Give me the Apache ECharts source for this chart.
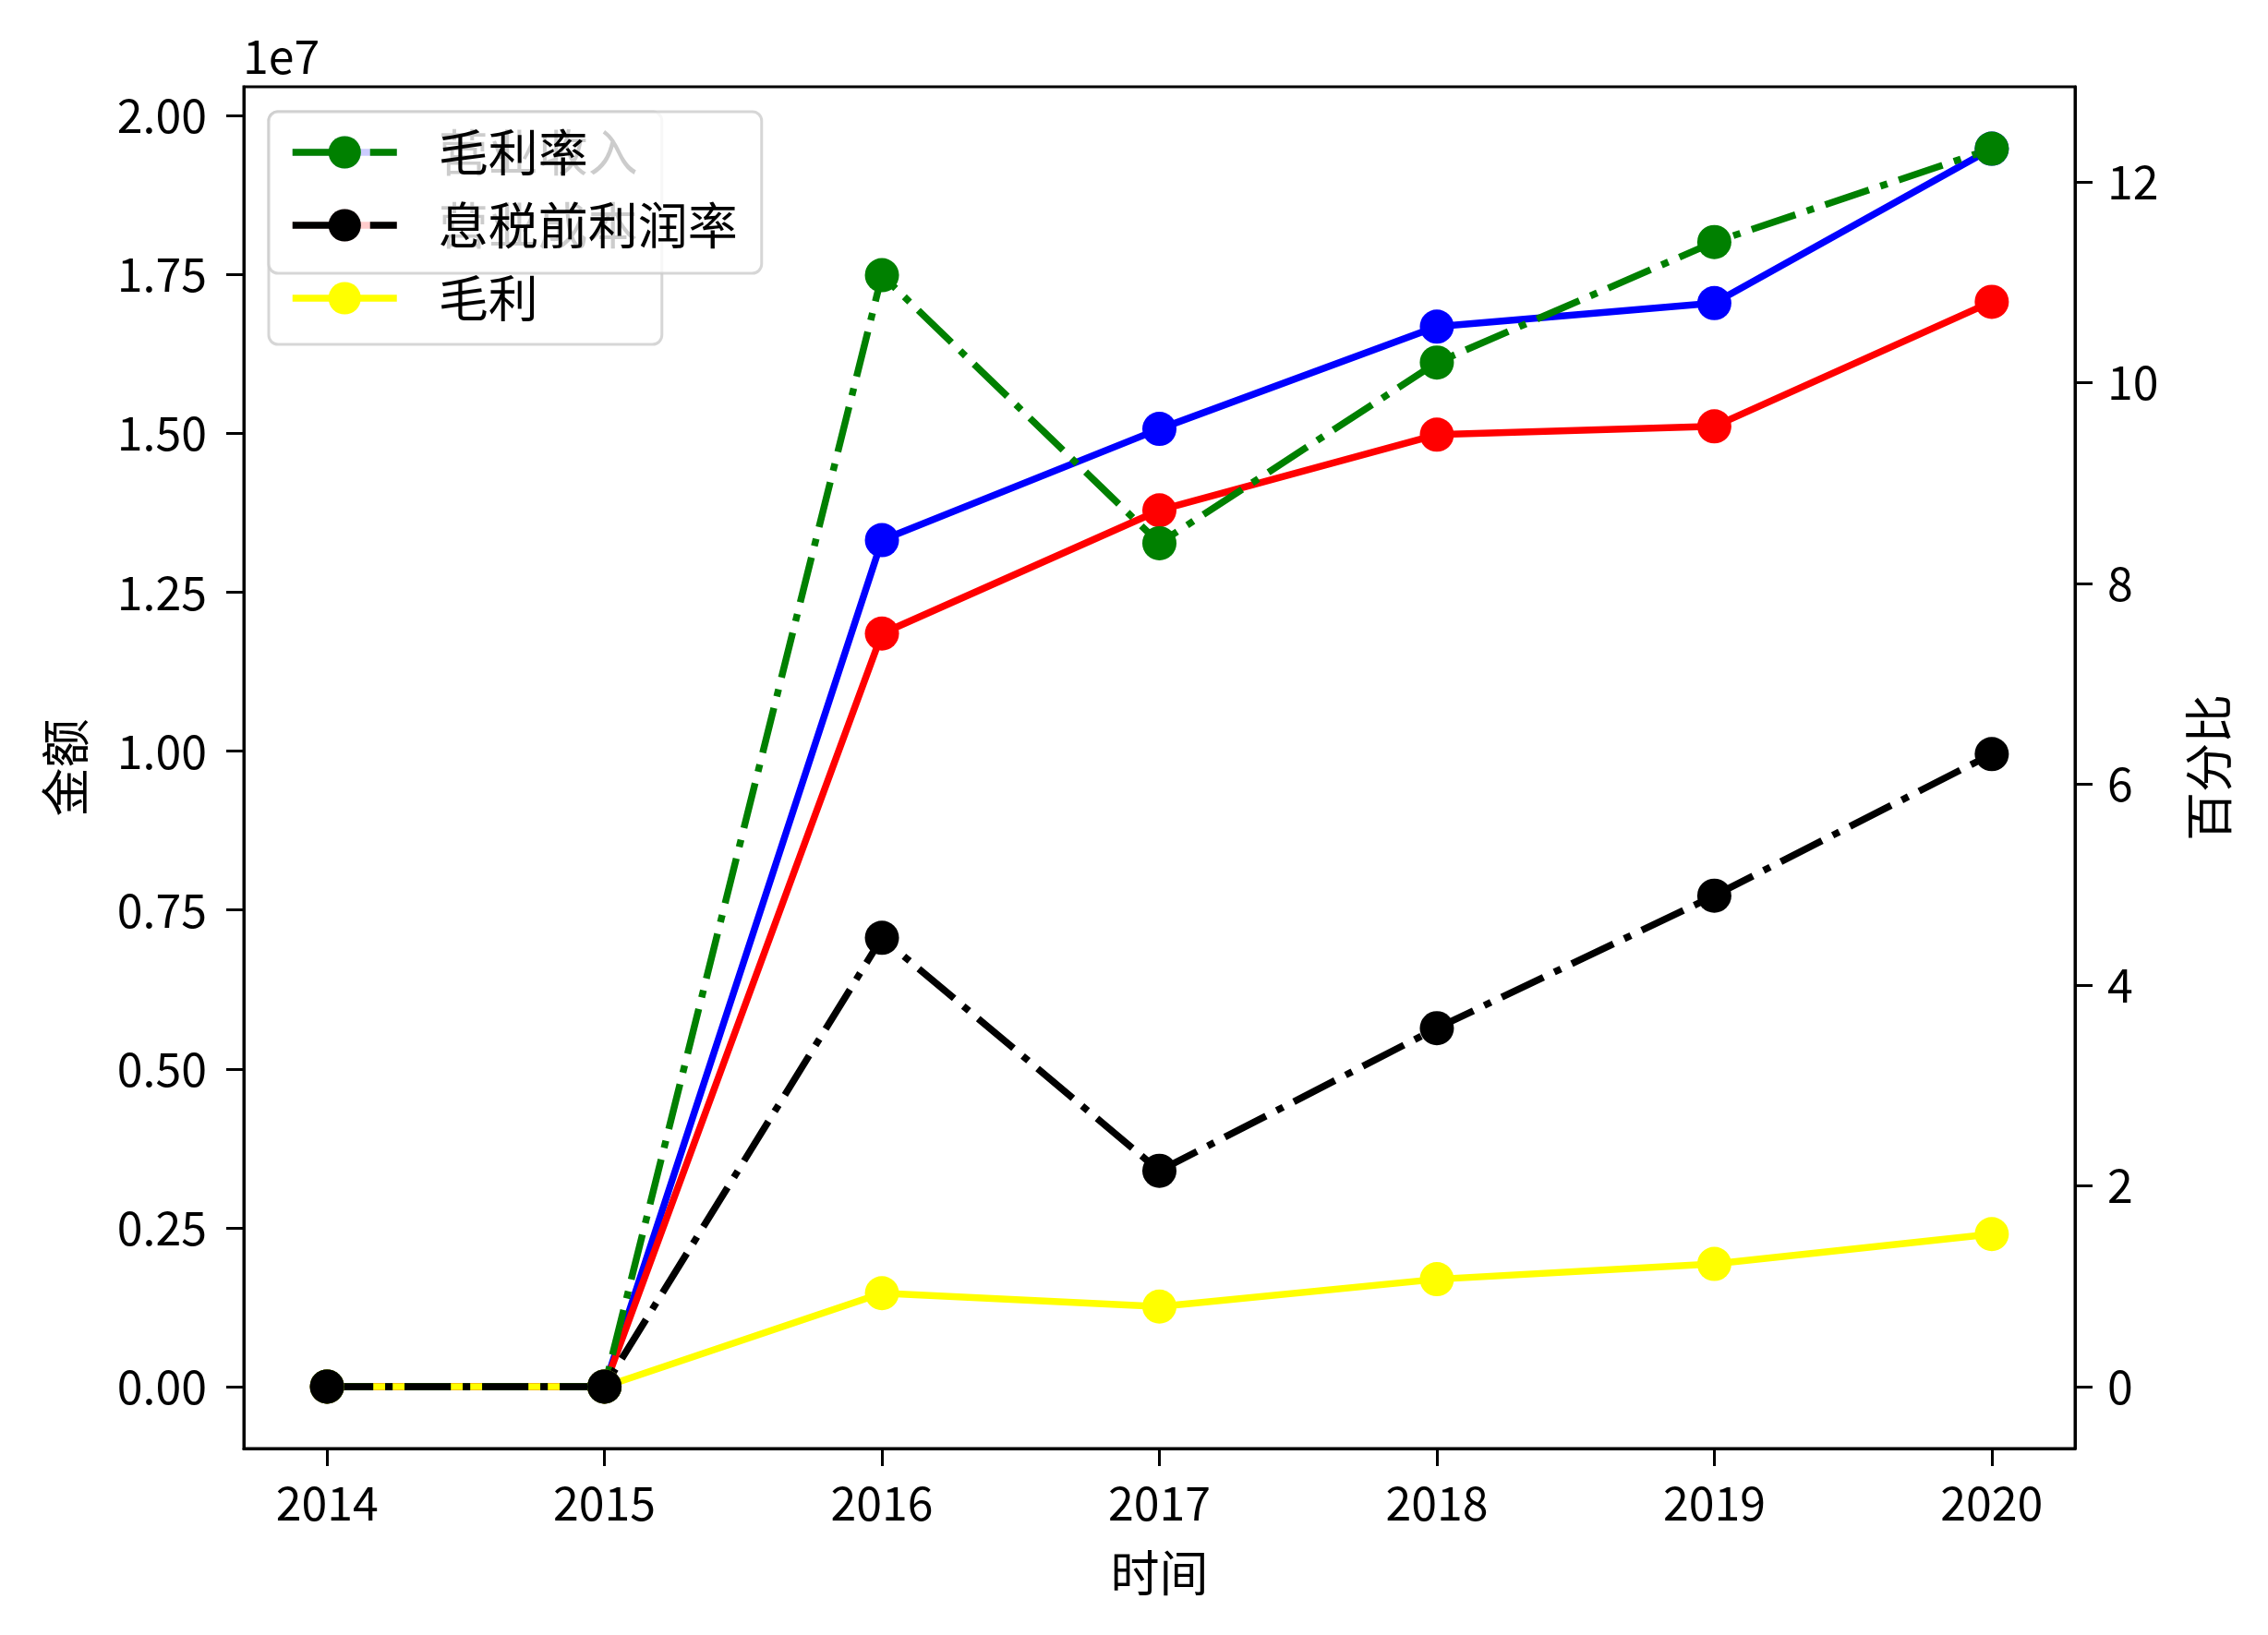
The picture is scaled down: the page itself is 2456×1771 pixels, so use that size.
<!DOCTYPE html>
<html>
<head>
<meta charset="utf-8">
<script src="https://cdn.jsdelivr.net/npm/echarts@6/dist/echarts.min.js"></script>
<style>html,body{margin:0;padding:0;background:#fff}#c{width:2456px;height:1771px}</style>
</head>
<body>
<div id="c"></div>
<script>
const years = [2014, 2015, 2016, 2017, 2018, 2019, 2020];
const revenue = [0, 0, 13320000, 15070000, 16680000, 17050000, 19480000];   // 营业收入
const cost = [0, 0, 11850000, 13790000, 14980000, 15110000, 17070000];      // 营业成本
const grossProfit = [0, 0, 1470000, 1260000, 1690000, 1930000, 2400000];    // 毛利
const grossMargin = [0, 0, 11.07, 8.40, 10.20, 11.40, 12.33];               // 毛利率
const ebitMargin = [0, 0, 4.47, 2.15, 3.57, 4.89, 6.30];                    // 息税前利润率
const leftTicks = [0, 2500000, 5000000, 7500000, 10000000, 12500000, 15000000, 17500000, 20000000];
const rightTicks = [0, 2, 4, 6, 8, 10, 12];

const FONT = '"Noto Sans CJK SC", "Noto Sans", sans-serif';
const pairs = arr => years.map((y, i) => [y, arr[i]]);
const LW = 7.5;
const dashDot = [50, 13, 8, 13];

function mkSeries(name, color, data, axis, dashed) {
  return {
    name: name, type: 'line', yAxisIndex: axis, data: pairs(data),
    symbol: 'circle', symbolSize: 37, showSymbol: true, showAllSymbol: true,
    lineStyle: { color: color, width: LW, type: dashed ? dashDot : 'solid' },
    itemStyle: { color: color },
    emphasis: { disabled: true }
  };
}

const legendCommon = {
  orient: 'vertical', left: 291, top: 121,
  backgroundColor: 'rgba(255,255,255,0.8)',
  borderColor: 'rgba(204,204,204,0.8)', borderWidth: 3, borderRadius: 10,
  padding: [14, 26, 20, 22],
  itemWidth: 113, itemHeight: 44, itemGap: 19,
  lineStyle: { width: LW },
  textStyle: { fontFamily: FONT, fontSize: 54, color: '#000', lineHeight: 60, padding: [0, 0, 0, 40] },
  selectedMode: false
};

const axisLineStyle = { show: true, onZero: false, lineStyle: { color: '#000', width: 3 } };

const chart = echarts.init(document.getElementById('c'), null, { renderer: 'canvas' });
chart.setOption({
  animation: false,
  backgroundColor: '#fff',
  textStyle: { fontFamily: FONT },
  grid: { left: 264, right: 209, top: 94, bottom: 202, show: true, borderColor: '#000', borderWidth: 3, backgroundColor: 'transparent' },
  legend: [
    Object.assign({}, legendCommon, { data: ['营业收入', '营业成本', '毛利'], z: 4 }),
    Object.assign({}, legendCommon, { data: ['毛利率', '息税前利润率'], z: 6, padding: [14, 26, 22, 22] })
  ],
  graphic: [{
    type: 'text', left: 263, top: 36,
    style: { text: '1e7', fontFamily: FONT, fontSize: 50, fill: '#000' }
  }],
  xAxis: {
    type: 'value', min: 2013.7, max: 2020.3,
    name: '时间', nameLocation: 'middle', nameGap: 108,
    nameTextStyle: { fontFamily: FONT, fontSize: 53, color: '#000' },
    axisLine: axisLineStyle,
    axisTick: { show: true, length: 19, lineStyle: { color: '#000', width: 3 }, customValues: years },
    axisLabel: { customValues: years, margin: 34, fontFamily: FONT, fontSize: 50, color: '#000', formatter: v => String(v) },
    splitLine: { show: false }
  },
  yAxis: [{
    type: 'value', min: -974000, max: 20454000, position: 'left',
    name: '金额', nameLocation: 'middle', nameGap: 167, nameRotate: 90,
    nameTextStyle: { fontFamily: FONT, fontSize: 53, color: '#000' },
    axisLine: axisLineStyle,
    axisTick: { show: true, length: 19, lineStyle: { color: '#000', width: 3 }, customValues: leftTicks },
    axisLabel: { customValues: leftTicks, margin: 40, fontFamily: FONT, fontSize: 50, color: '#000', formatter: v => (v / 1e7).toFixed(2) },
    splitLine: { show: false }
  }, {
    type: 'value', min: -0.6165, max: 12.9465, position: 'right',
    name: '百分比', nameLocation: 'middle', nameGap: 118, nameRotate: 90,
    nameTextStyle: { fontFamily: FONT, fontSize: 53, color: '#000' },
    axisLine: axisLineStyle,
    axisTick: { show: true, length: 19, lineStyle: { color: '#000', width: 3 }, customValues: rightTicks },
    axisLabel: { customValues: rightTicks, margin: 35, fontFamily: FONT, fontSize: 50, color: '#000', formatter: v => String(v) },
    splitLine: { show: false }
  }],
  series: [
    mkSeries('营业收入', '#0000ff', revenue, 0, false),
    mkSeries('营业成本', '#ff0000', cost, 0, false),
    mkSeries('毛利', '#ffff00', grossProfit, 0, false),
    mkSeries('毛利率', '#008000', grossMargin, 1, true),
    mkSeries('息税前利润率', '#000000', ebitMargin, 1, true)
  ]
});
</script>
</body>
</html>
